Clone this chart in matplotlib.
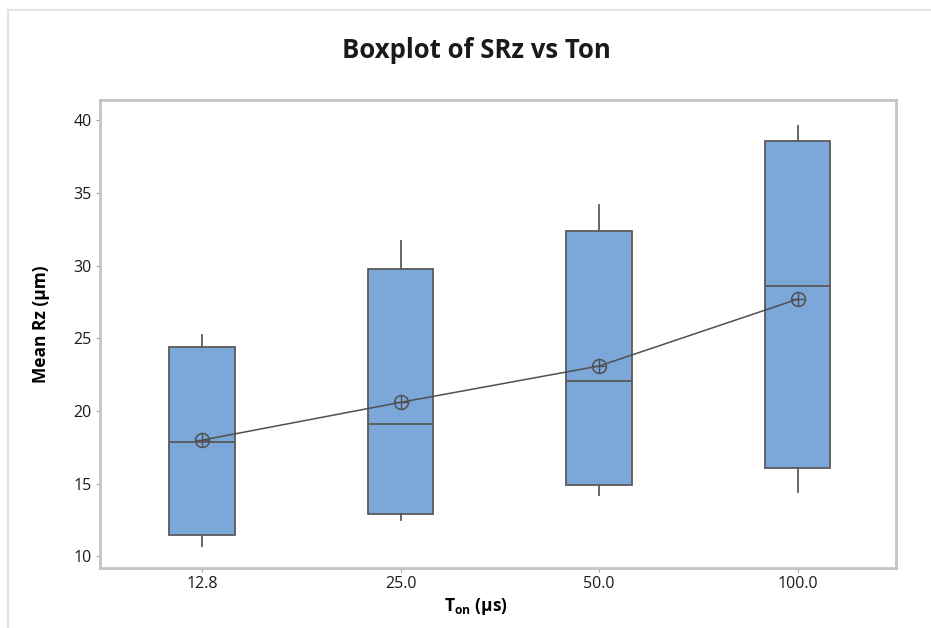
import numpy as np
import matplotlib.pyplot as plt
from matplotlib.lines import Line2D

# Summary statistics per Ton level
ton_labels = ["12.8", "25.0", "50.0", "100.0"]
q1 = [11.5, 12.9, 14.9, 16.1]
median = [17.9, 19.1, 22.1, 28.6]
q3 = [24.4, 29.8, 32.4, 38.6]
whisker_low = [10.7, 12.5, 14.2, 14.4]
whisker_high = [25.2, 31.7, 34.2, 39.6]
mean = [18.0, 20.6, 23.1, 27.7]

plt.rcParams['font.family'] = ['Open Sans', 'DejaVu Sans']
plt.rcParams['mathtext.fontset'] = 'custom'
plt.rcParams['mathtext.bf'] = 'Open Sans:bold'
plt.rcParams['mathtext.rm'] = 'Open Sans'

fig = plt.figure(figsize=(9.31, 6.28), dpi=100)
ax = fig.add_axes([100 / 931, 1 - 568 / 628, 796 / 931, 468 / 628])

stats = []
for i in range(len(ton_labels)):
    stats.append({
        'q1': q1[i], 'med': median[i], 'q3': q3[i],
        'whislo': whisker_low[i], 'whishi': whisker_high[i],
        'mean': mean[i], 'fliers': [], 'label': ton_labels[i],
    })

pos = np.arange(1, len(ton_labels) + 1)
edge = '#5a5a5a'
ax.bxp(stats, positions=pos, widths=0.33, patch_artist=True,
       showcaps=False, showmeans=False,
       boxprops=dict(facecolor='#7ba7d9', edgecolor=edge, linewidth=1.3),
       medianprops=dict(color=edge, linewidth=1.3),
       whiskerprops=dict(color=edge, linewidth=1.3))

# mean connect line with circled-plus markers
ax.plot(pos, mean, color='#505050', linewidth=1.1, zorder=4)
ax.plot(pos, mean, linestyle='none', marker='o', markersize=10,
        markerfacecolor='none', markeredgecolor='#505050',
        markeredgewidth=1.1, zorder=5)
ax.plot(pos, mean, linestyle='none', marker='+', markersize=10,
        markeredgecolor='#505050', markeredgewidth=1.0, zorder=5)

ax.set_xlim(0.485, 4.495)
ax.set_ylim(9.2, 41.4)
ax.set_yticks([10, 15, 20, 25, 30, 35, 40])
ax.set_xticks(pos)
ax.set_xticklabels(ton_labels)
ax.tick_params(axis='both', labelsize=11.5, length=3, color='#a0a0a0',
               labelcolor='#1a1a1a', pad=3)

for s in ax.spines.values():
    s.set_color('#c4c4c4')
    s.set_linewidth(2)

ax.set_ylabel('Mean Rz (µm)', fontsize=12.5, fontweight='bold')
ax.yaxis.set_label_coords(-0.0625, 0.521)
ax.set_xlabel(r'$\mathbf{T_{on}}$ (µs)', fontsize=12.5, fontweight='bold')
ax.xaxis.set_label_coords(0.472, -0.06)
fig.text(476 / 931, 1 - 50 / 628, 'Boxplot of SRz vs Ton', ha='center',
         va='center', fontsize=18.5, fontweight='bold', color='#1a1a1a')

# light outer frame lines (top and left)
fig.add_artist(Line2D([8 / 931, 1], [1 - 10 / 628, 1 - 10 / 628],
                      color='#e4e4e4', linewidth=1.5))
fig.add_artist(Line2D([8 / 931, 8 / 931], [0, 1 - 10 / 628],
                      color='#e4e4e4', linewidth=1.5))

fig.savefig('out.png', dpi=100)
